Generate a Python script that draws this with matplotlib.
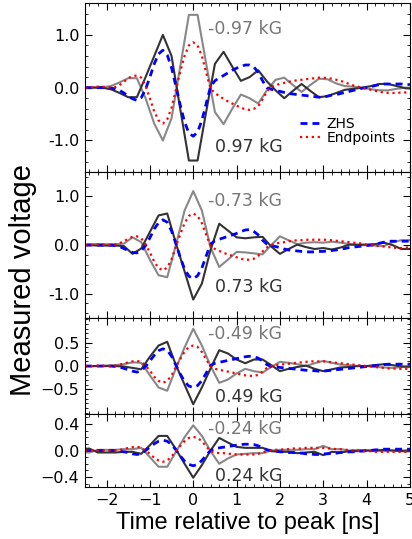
import numpy as np
import matplotlib
matplotlib.use("Agg")
import matplotlib.pyplot as plt
from matplotlib.ticker import AutoMinorLocator, MultipleLocator

# time grids (ns)
t_fine = np.round(np.arange(-2.5, 5.01, 0.1), 1)   # smooth simulations
t_odd = np.round(np.arange(-2.5, 5.11, 0.2), 1)    # measured, top panel
t_even = np.round(np.arange(-2.6, 5.21, 0.2), 1)   # measured, other panels

# ---- 0.97 kG ----
zhs_097 = [0.0, 0.0, 0.0, 0.0, 0.0, 0.0, -0.01, -0.02, -0.05, -0.1,
           -0.16, -0.21, -0.24, -0.19, -0.03, 0.2, 0.45, 0.64, 0.71, 0.62,
           0.38, 0.03, -0.33, -0.65, -0.86, -0.92, -0.84, -0.62, -0.3, 0.02,
           0.13, 0.19, 0.23, 0.28, 0.33, 0.37, 0.4, 0.43, 0.43, 0.39,
           0.29, 0.13, 0.0, -0.03, -0.05, -0.07, -0.09, -0.11, -0.12, -0.13,
           -0.14, -0.15, -0.16, -0.17, -0.18, -0.18, -0.16, -0.14, -0.13, -0.11,
           -0.09, -0.07, -0.05, -0.03, -0.01, 0.0, 0.02, 0.04, 0.06, 0.07,
           0.07, 0.07, 0.07, 0.07, 0.06, 0.06]
end_097 = [0.0, 0.0, 0.01, 0.02, 0.02, 0.01, 0.0, 0.01, 0.05, 0.11,
           0.18, 0.22, 0.23, 0.19, 0.03, -0.2, -0.45, -0.62, -0.68, -0.6,
           -0.38, -0.04, 0.3, 0.6, 0.8, 0.86, 0.8, 0.6, 0.28, -0.02,
           -0.1, -0.16, -0.21, -0.26, -0.3, -0.34, -0.38, -0.41, -0.42, -0.4,
           -0.35, -0.22, -0.07, 0.02, 0.05, 0.07, 0.09, 0.11, 0.13, 0.14,
           0.15, 0.16, 0.17, 0.18, 0.19, 0.19, 0.18, 0.17, 0.15, 0.13,
           0.1, 0.07, 0.04, 0.02, 0.0, -0.02, -0.04, -0.06, -0.08, -0.09,
           -0.1, -0.1, -0.1, -0.09, -0.09, -0.08]
pos_097 = [0.0, 0.0, 0.0, -0.03, -0.1, -0.18, -0.18, 0.2, 0.6, 1.0,
           0.6, -0.4, -1.38, -1.38, -0.45, 0.45, 0.68, 0.4, 0.13, 0.2,
           0.33, 0.12, -0.05, -0.2, -0.06, 0.07, -0.06, -0.18, -0.16, -0.1,
           -0.04, -0.02, 0.0, 0.03, 0.07, 0.07, 0.03, -0.01, -0.02]
neg_097 = [0.0, 0.01, 0.01, 0.03, 0.1, 0.18, 0.18, -0.2, -0.68, -1.0,
           -0.58, 0.4, 1.38, 1.38, 0.45, -0.46, -0.69, -0.4, -0.13, -0.2,
           -0.3, -0.05, 0.15, 0.19, 0.05, -0.08, 0.05, 0.17, 0.16, 0.08,
           0.03, 0.02, 0.0, -0.03, -0.05, -0.05, -0.02, 0.0, 0.0]

# ---- 0.73 kG ----
zhs_073 = [0.0, 0.0, 0.0, 0.0, 0.0, 0.0, 0.0, -0.01, -0.03, -0.07,
           -0.11, -0.15, -0.16, -0.12, -0.01, 0.15, 0.33, 0.46, 0.52, 0.47,
           0.29, 0.03, -0.25, -0.49, -0.64, -0.69, -0.63, -0.47, -0.22, 0.02,
           0.09, 0.12, 0.15, 0.18, 0.21, 0.24, 0.28, 0.31, 0.32, 0.28,
           0.21, 0.1, 0.02, -0.01, -0.03, -0.05, -0.08, -0.1, -0.11, -0.12,
           -0.13, -0.14, -0.14, -0.14, -0.13, -0.13, -0.12, -0.11, -0.1, -0.08,
           -0.07, -0.05, -0.04, -0.03, -0.02, -0.01, 0.0, 0.01, 0.04, 0.06,
           0.08, 0.08, 0.08, 0.08, 0.08, 0.08]
end_073 = [0.0, 0.0, 0.01, 0.01, 0.01, 0.0, 0.0, 0.01, 0.04, 0.08,
           0.13, 0.17, 0.18, 0.14, 0.02, -0.15, -0.34, -0.47, -0.52, -0.46,
           -0.29, -0.03, 0.22, 0.45, 0.6, 0.65, 0.6, 0.45, 0.21, -0.02,
           -0.08, -0.12, -0.16, -0.19, -0.22, -0.25, -0.28, -0.3, -0.3, -0.28,
           -0.22, -0.13, -0.05, 0.0, 0.03, 0.05, 0.06, 0.08, 0.09, 0.1,
           0.1, 0.11, 0.11, 0.11, 0.11, 0.11, 0.11, 0.1, 0.09, 0.08,
           0.07, 0.06, 0.05, 0.04, 0.03, 0.01, 0.0, -0.01, -0.02, -0.03,
           -0.04, -0.05, -0.06, -0.06, -0.05, -0.05]
pos_073 = [0.0, 0.0, -0.01, -0.01, -0.01, -0.02, -0.18, -0.07, 0.27, 0.61,
           0.65, 0.04, -0.54, -1.12, -0.79, -0.1, 0.44, 0.3, 0.16, 0.14,
           0.16, 0.17, -0.03, -0.18, -0.08, 0.01, -0.04, -0.08, -0.06, -0.09,
           -0.05, 0.01, 0.01, 0.01, 0.02, 0.05, 0.0, -0.08, -0.08, -0.08]
neg_073 = [0.0, 0.02, 0.02, 0.02, 0.02, 0.03, 0.16, 0.06, -0.3, -0.62,
           -0.66, 0.0, 0.71, 1.11, 0.71, -0.05, -0.45, -0.3, -0.14, -0.15,
           -0.17, -0.19, 0.0, 0.18, 0.1, 0.02, 0.05, 0.06, 0.05, 0.07,
           0.05, 0.02, 0.0, 0.0, -0.01, -0.02, 0.06, 0.1, 0.1, 0.1]

# ---- 0.49 kG ----
zhs_049 = [0.0, 0.0, 0.0, 0.0, 0.0, 0.0, 0.0, -0.01, -0.02, -0.05,
           -0.08, -0.11, -0.13, -0.1, -0.01, 0.11, 0.23, 0.33, 0.37, 0.34,
           0.21, 0.02, -0.17, -0.33, -0.43, -0.46, -0.42, -0.31, -0.15, 0.01,
           0.06, 0.08, 0.1, 0.12, 0.14, 0.16, 0.18, 0.2, 0.21, 0.2,
           0.17, 0.11, 0.03, -0.01, -0.02, -0.03, -0.04, -0.05, -0.06, -0.07,
           -0.08, -0.09, -0.1, -0.1, -0.11, -0.11, -0.1, -0.09, -0.08, -0.07,
           -0.06, -0.05, -0.04, -0.03, -0.02, -0.01, 0.0, 0.01, 0.02, 0.03,
           0.04, 0.04, 0.04, 0.04, 0.04, 0.04]
end_049 = [0.0, 0.0, 0.0, 0.01, 0.01, 0.0, 0.0, 0.01, 0.03, 0.05,
           0.08, 0.1, 0.11, 0.09, 0.01, -0.1, -0.23, -0.32, -0.36, -0.32,
           -0.2, -0.02, 0.15, 0.31, 0.41, 0.44, 0.41, 0.3, 0.14, -0.01,
           -0.06, -0.08, -0.1, -0.12, -0.14, -0.16, -0.18, -0.2, -0.21, -0.21,
           -0.19, -0.12, -0.04, 0.0, 0.02, 0.03, 0.04, 0.05, 0.06, 0.07,
           0.08, 0.09, 0.1, 0.1, 0.1, 0.1, 0.09, 0.08, 0.07, 0.06,
           0.05, 0.04, 0.03, 0.02, 0.01, 0.0, -0.01, -0.02, -0.03, -0.04,
           -0.05, -0.05, -0.06, -0.06, -0.06, -0.06]
pos_049 = [0.0, 0.0, 0.0, 0.0, 0.0, -0.01, -0.04, -0.07, 0.2, 0.44,
           0.52, 0.02, -0.4, -0.82, -0.46, -0.05, 0.34, 0.27, 0.14, 0.06,
           0.14, 0.14, 0.02, -0.11, -0.06, -0.02, 0.01, -0.06, -0.11, -0.07,
           -0.03, -0.02, 0.0, 0.0, 0.02, 0.04, 0.02, -0.01, -0.01, -0.01]
neg_049 = [0.0, 0.0, 0.0, 0.01, 0.02, 0.04, 0.08, 0.07, -0.2, -0.46,
           -0.53, -0.05, 0.4, 0.8, 0.44, 0.0, -0.36, -0.29, -0.16, -0.06,
           -0.11, -0.14, -0.02, 0.09, 0.07, 0.04, 0.0, 0.06, 0.11, 0.07,
           0.03, 0.02, 0.0, 0.0, -0.02, -0.03, -0.04, -0.02, -0.02, -0.02]

# ---- 0.24 kG ----
zhs_024 = [0.0, 0.0, 0.0, 0.0, 0.0, 0.0, 0.0, 0.0, -0.01, -0.02,
           -0.03, -0.05, -0.06, -0.05, 0.0, 0.05, 0.1, 0.14, 0.155, 0.14,
           0.09, 0.01, -0.08, -0.16, -0.21, -0.23, -0.21, -0.15, -0.07, 0.0,
           0.03, 0.04, 0.05, 0.06, 0.07, 0.08, 0.09, 0.095, 0.095, 0.09,
           0.07, 0.04, 0.01, 0.0, -0.01, -0.02, -0.02, -0.03, -0.03, -0.04,
           -0.04, -0.05, -0.05, -0.06, -0.06, -0.05, -0.05, -0.04, -0.04, -0.03,
           -0.03, -0.02, -0.02, -0.01, -0.01, 0.0, 0.0, 0.01, 0.01, 0.02,
           0.02, 0.02, 0.02, 0.02, 0.02, 0.02]
end_024 = [0.0, 0.0, 0.0, 0.0, 0.0, 0.0, 0.0, 0.0, 0.01, 0.02,
           0.04, 0.05, 0.055, 0.045, 0.0, -0.05, -0.11, -0.15, -0.17, -0.15,
           -0.09, -0.01, 0.07, 0.14, 0.19, 0.205, 0.19, 0.14, 0.06, -0.01,
           -0.03, -0.04, -0.04, -0.05, -0.05, -0.06, -0.06, -0.06, -0.06, -0.06,
           -0.05, -0.03, -0.01, 0.0, 0.01, 0.01, 0.02, 0.02, 0.03, 0.03,
           0.03, 0.04, 0.04, 0.04, 0.04, 0.04, 0.03, 0.03, 0.02, 0.02,
           0.01, 0.01, 0.0, 0.0, -0.01, -0.01, -0.01, -0.02, -0.02, -0.02,
           -0.02, -0.02, -0.02, -0.02, -0.02, -0.02]
pos_024 = [0.02, 0.03, -0.03, -0.03, -0.03, -0.02, -0.02, -0.05, 0.08, 0.22,
           0.22, 0.02, -0.2, -0.41, -0.22, 0.0, 0.19, 0.12, 0.055, 0.04,
           0.04, 0.04, -0.01, -0.02, -0.02, -0.04, -0.03, -0.02, -0.07, -0.02,
           -0.03, -0.01, -0.01, 0.0, 0.0, 0.01, 0.0, -0.01, -0.01, -0.01]
neg_024 = [-0.02, -0.03, 0.01, 0.01, 0.01, 0.02, 0.02, 0.04, -0.1, -0.245,
           -0.245, -0.02, 0.2, 0.38, 0.22, -0.01, -0.2, -0.12, -0.06, -0.05,
           -0.04, -0.04, 0.0, 0.01, 0.01, 0.01, 0.02, 0.02, 0.07, 0.02,
           0.02, 0.0, 0.01, 0.0, 0.0, -0.01, 0.0, 0.0, 0.01, 0.01]

fields = ["0.97", "0.73", "0.49", "0.24"]
zhs = [zhs_097, zhs_073, zhs_049, zhs_024]
endp = [end_097, end_073, end_049, end_024]
pos = [pos_097, pos_073, pos_049, pos_024]
neg = [neg_097, neg_073, neg_049, neg_024]
t_meas = [t_odd, t_even, t_even, t_even]

ylims = [1.6, 1.5, 1.03, 0.55]
yticks = [[-1.0, 0.0, 1.0], [-1.0, 0.0, 1.0], [-0.5, 0.0, 0.5], [-0.4, 0.0, 0.4]]
yticklabels = [["-1.0", "0.0", "1.0"], ["-1.0", "0.0", "1.0"],
               ["\u22120.5", "0.0", "0.5"], ["\u22120.4", "0.0", "0.4"]]
label_y = [(1.11, -1.12), (0.9, -0.87), (0.68, -0.66), (0.33, -0.39)]

fig, axes = plt.subplots(4, 1, figsize=(4.12, 5.39), dpi=100, sharex=True,
                         gridspec_kw={'height_ratios': [169, 146, 96, 73]})
fig.subplots_adjust(left=0.206, right=0.995, top=0.994, bottom=0.0965, hspace=0)

for i, ax in enumerate(axes):
    ax.plot(t_meas[i], neg[i], color='#888888', lw=1.5)
    ax.plot(t_meas[i], pos[i], color='#333333', lw=1.5)
    ax.plot(t_fine, zhs[i], color='b', ls=(0, (2.5, 1.8)), lw=2, label='ZHS')
    ax.plot(t_fine, endp[i], 'r:', lw=1.6, label='Endpoints')
    ax.set_xlim(-2.5, 5)
    ax.set_ylim(-ylims[i], ylims[i])
    ax.set_yticks(yticks[i])
    ax.set_yticklabels(yticklabels[i])
    ax.yaxis.set_minor_locator(AutoMinorLocator())
    ax.xaxis.set_major_locator(MultipleLocator(1))
    ax.xaxis.set_minor_locator(MultipleLocator(0.2))
    ax.tick_params(which='both', direction='in', top=True, right=True, labelsize=11.5, pad=4)
    ax.tick_params(which='major', length=5)
    ax.tick_params(which='minor', length=2.5)
    ax.text(0.33, label_y[i][0], "-" + fields[i] + " kG", color='#777777',
            fontsize=12.5, ha='left', va='center')
    ax.text(0.51, label_y[i][1], fields[i] + " kG", color='#333333',
            fontsize=12.5, ha='left', va='center')

axes[0].legend(loc='center left', bbox_to_anchor=(0.662, 0.243), frameon=False,
               fontsize=10, handlelength=1.6, handletextpad=0.3, labelspacing=0.0,
               borderpad=0, borderaxespad=0)

axes[-1].set_xlabel('Time relative to peak [ns]', fontsize=17,
                    family='Liberation Sans', labelpad=3)
fig.text(0.055, 0.48, 'Measured voltage', rotation=90, fontsize=21,
         family='Liberation Sans', ha='center', va='center')

fig.savefig('out.png', dpi=100)
